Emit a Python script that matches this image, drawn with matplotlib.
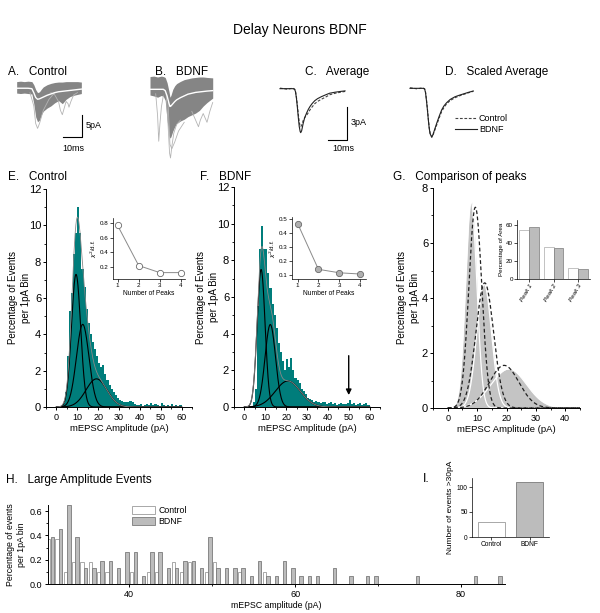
import numpy as np
import matplotlib.pyplot as plt
from matplotlib.patches import Patch
from matplotlib.ticker import MultipleLocator

plt.rcParams['font.family'] = ['Liberation Sans', 'DejaVu Sans']
plt.rcParams['axes.linewidth'] = 0.7
plt.rcParams['xtick.major.width'] = 0.7
plt.rcParams['ytick.major.width'] = 0.7
plt.rcParams['xtick.minor.width'] = 0.6
plt.rcParams['ytick.minor.width'] = 0.6

W, H = 600, 613
TEAL = '#007d7b'
GREY = '#bcbcbc'
EDGE = '#7a7a7a'

# ---------------- data ----------------
# A / B: envelopes of the raw traces (ms, pA)
t_a = [0, 2, 4, 6, 8, 9, 10, 11, 12, 13, 14, 16, 18, 20, 22, 24, 26, 28, 30, 32, 34]
avg_a = [0, 0, 0, 0, -0.1, -1.0, -2.1, -2.5, -2.4, -2.2, -2.0, -1.6, -1.3, -1.0, -0.8, -0.7, -0.6, -0.5, -0.4, -0.3, -0.2]
upper_a = [1.5, 1.6, 1.5, 1.6, 1.5, 0.8, -0.3, -1.0, -0.8, -0.2, 0.3, 0.8, 1.1, 1.3, 1.4, 1.4, 1.5, 1.5, 1.5, 1.5, 1.4]
lower_a = [-1.1, -1.2, -1.1, -1.2, -1.3, -3.5, -6.5, -7.6, -7.2, -6.0, -5.2, -4.5, -4.0, -3.3, -2.8, -3.5, -2.5, -1.9, -1.6, -1.4, -1.2]
out_a = [
    ([7, 9, 10, 11, 12, 14, 17, 20], [-1, -4, -8, -9.1, -8, -5, -2.5, -1]),
    ([18, 20, 22, 23, 24, 25, 26, 27, 27.5, 28.5, 30, 32], [-1, -1.5, -3, -5, -6, -4.5, -3, -3.5, -4.3, -3, -1.5, -1]),
]

t_b = [0, 2, 4, 5, 6, 7, 8, 9, 10, 10.5, 11, 12, 13, 14, 16, 18, 20, 22, 24, 26, 28, 30, 33]
avg_b = [0, 0, 0, 0, 0, 0, -0.3, -1.5, -3.2, -3.9, -3.8, -3.3, -2.8, -2.4, -1.9, -1.5, -1.1, -0.9, -0.7, -0.6, -0.5, -0.4, -0.3]
upper_b = [2.9, 3.0, 2.8, 2.9, 3.0, 2.9, 2.7, 1.5, -0.5, -1.8, -1.4, 0.0, 0.8, 1.3, 1.8, 2.2, 2.4, 2.6, 2.7, 2.8, 2.8, 2.7, 2.6]
lower_b = [-1.3, -1.5, -1.8, -1.6, -1.4, -1.6, -2.5, -7, -10.5, -11.1, -10.8, -9.5, -8.5, -7.8, -7.2, -6.8, -6.2, -5.8, -5.4, -4.8, -3.8, -3.0, -2.0]
out_b = [
    ([8.5, 9.5, 10.3, 10.8, 11.5, 12.5, 14, 16], [-1, -8, -14.5, -15.6, -13, -10, -8, -7]),
    ([3, 4, 4.6, 5.2, 6, 7], [-1, -6, -11.8, -8, -4, -1.5]),
    ([22, 24, 25.5, 26.5, 28, 30, 31.5, 33], [-5, -7, -8.5, -7, -5.5, -7.5, -5, -3]),
    ([9.5, 10.5, 11.5, 13, 15, 18], [-3, -12.5, -13.5, -12, -9.5, -7.5]),
]

# C / D: average traces (ms, pA)
t_c = [0, 4, 7, 8, 8.5, 9, 9.5, 10, 10.5, 11, 11.3, 11.8, 12.7, 13.5, 14.5, 15.5, 16.4, 17.5, 19, 20.5, 22.6, 25, 27.1, 30, 33, 35.5]
bdnf_c = [0, 0, 0, -0.05, -0.3, -0.9, -1.7, -2.6, -3.4, -3.85, -3.96, -3.8, -3.1, -2.6, -2.2, -1.85, -1.6, -1.35, -1.08, -0.9, -0.72, -0.55, -0.41, -0.32, -0.25, -0.2]
ctrl_c = [0.05, -0.05, 0.05, -0.05, -0.3, -0.8, -1.5, -2.3, -3.0, -3.38, -3.42, -3.3, -2.85, -2.6, -2.4, -2.15, -1.9, -1.65, -1.35, -1.15, -0.95, -0.75, -0.55, -0.42, -0.32, -0.25]
t_d = [0, 4, 7, 8, 8.5, 9, 9.5, 10, 10.5, 11, 11.9, 12.5, 13.5, 14.6, 16, 17.3, 18.5, 20, 22, 24.6, 27, 29.1, 32, 34.6]
bdnf_d = [0, 0, 0, -0.05, -0.4, -1.1, -1.9, -2.8, -3.6, -4.1, -4.4, -4.2, -3.7, -3.15, -2.5, -1.95, -1.6, -1.3, -1.0, -0.76, -0.62, -0.51, -0.36, -0.24]
ctrl_d = [0.05, -0.05, 0.05, -0.05, -0.35, -1.0, -1.8, -2.7, -3.5, -4.05, -4.4, -4.25, -3.8, -3.3, -2.65, -2.1, -1.75, -1.4, -1.1, -0.85, -0.68, -0.56, -0.4, -0.27]

# E / F: amplitude histograms, 1 pA bins starting at 0 pA (% of events)
ctrl_hist = [0, 0, 0.05, 0.2, 0.8, 2.8, 5.3, 6.3, 8.4, 9.6, 11.0, 9.6, 7.6, 6.6, 5.4, 4.6, 4.0, 3.6, 3.2, 2.8,
             2.4, 2.2, 2.3, 1.8, 1.5, 1.2, 1.0, 0.8, 0.65, 0.5, 0.4, 0.35, 0.3, 0.25, 0.3, 0.35, 0.3, 0.15, 0.1, 0.1,
             0.15, 0.05, 0.1, 0.15, 0.1, 0.2, 0.1, 0.15, 0.1, 0.05, 0.2, 0.1, 0.05, 0.1, 0.05, 0.15, 0.05, 0.1, 0.05, 0.1]
bdnf_hist = [0, 0, 0, 0.05, 0.3, 1.0, 5.5, 8.6, 9.9, 8.6, 8.6, 7.3, 6.5, 5.6, 5.0, 4.3, 3.5, 3.0, 2.5, 2.0,
             2.6, 2.2, 2.7, 2.0, 1.6, 1.5, 1.3, 1.0, 0.9, 0.7, 0.5, 0.45, 0.4, 0.3, 0.35, 0.25, 0.2, 0.3, 0.25, 0.15,
             0.2, 0.25, 0.15, 0.2, 0.1, 0.15, 0.2, 0.15, 0.15, 0.2, 0.4, 0.15, 0.2, 0.1, 0.15, 0.2, 0.1, 0.15, 0.2, 0.1]

# gaussian fits (centre pA, peak %, sd pA)
ctrl_mu = [9.4, 12.6, 19.2]
ctrl_amp = [7.3, 4.55, 1.55]
ctrl_sd = [2.2, 3.0, 5.0]
bdnf_mu = [8.0, 12.4, 20.8]
bdnf_amp = [7.5, 4.5, 1.42]
bdnf_sd = [1.9, 2.5, 6.0]

# chi^2 / d.f. vs number of peaks
n_peaks = [1, 2, 3, 4]
chi_ctrl = [0.767, 0.215, 0.118, 0.118]
chi_bdnf = [0.47, 0.139, 0.114, 0.105]

# G inset: percentage of area
peak_names = ['Peak 1', 'Peak 2', 'Peak 3']
area_ctrl = [54, 35, 12]
area_bdnf = [57, 34, 11]

# H: large amplitude events, 1 pA bins from 30 pA
large_bins = list(range(30, 85))
large_ctrl = [0.37, 0.37, 0.095, 0.185, 0.185, 0.185, 0.095, 0.095, 0, 0, 0.095, 0, 0.095, 0.095, 0, 0.185, 0.095, 0.185, 0, 0.095,
              0.185, 0, 0, 0.095, 0, 0, 0.095, 0, 0, 0, 0, 0, 0, 0, 0, 0, 0, 0, 0, 0,
              0, 0, 0, 0, 0, 0, 0, 0, 0, 0, 0, 0, 0, 0, 0]
large_bdnf = [0.39, 0.45, 0.65, 0.39, 0.13, 0.13, 0.19, 0.19, 0.13, 0.26, 0.26, 0.065, 0.26, 0.26, 0.13, 0.13, 0.19, 0.19, 0.13, 0.39,
              0.13, 0.13, 0.13, 0.13, 0.065, 0.19, 0.065, 0.065, 0.19, 0.13, 0.065, 0.065, 0.065, 0, 0.13, 0, 0.065, 0, 0.065, 0.065,
              0, 0, 0, 0, 0.065, 0, 0, 0, 0, 0, 0, 0.065, 0, 0, 0.065]

# I: number of events > 30 pA
groups = ['Control', 'BDNF']
n_large = [30, 110]


# ---------------- helpers ----------------
fig = plt.figure(figsize=(6.0, 6.13), dpi=100)


def px_axes(l, t, r, b):
    return fig.add_axes([l / W, 1 - b / H, (r - l) / W, (b - t) / H])


def px_text(x, y, s, **kw):
    kw.setdefault('va', 'center')
    fig.text(x / W, 1 - y / H, s, **kw)


def gauss(x, mu, amp, sd):
    return amp * np.exp(-(x - mu) ** 2 / (2 * sd ** 2))


def clean(ax):
    ax.spines['top'].set_visible(False)
    ax.spines['right'].set_visible(False)


def big_axis_style(ax, label_x):
    ax.xaxis.set_major_locator(MultipleLocator(10))
    ax.xaxis.set_minor_locator(MultipleLocator(5))
    ax.yaxis.set_major_locator(MultipleLocator(2))
    ax.yaxis.set_minor_locator(MultipleLocator(1))
    ax.tick_params(axis='y', labelsize=8, length=2.5, pad=1)
    ax.tick_params(axis='x', labelsize=6.5, length=2.5, pad=1.5)
    ax.tick_params(which='minor', length=1.5)
    ax.set_xlabel('mEPSC Amplitude (pA)', fontsize=6.8, labelpad=2)
    ax.set_ylabel('Percentage of Events\nper 1pA Bin', fontsize=7, linespacing=1.3)
    ax.yaxis.set_label_coords(label_x, 0.5)
    clean(ax)


px_text(300, 30, 'Delay Neurons BDNF', ha='center', fontsize=10)

# ---------------- A & B raw traces ----------------
axA = px_axes(10, 75, 100, 165)
axA.set_xlim(-3.5, 43.8)
axA.set_ylim(-17.4, 3.0)
for tt, yy in out_a:
    axA.plot(tt, yy, color='#b4b4b4', lw=0.6)
axA.fill_between(t_a, lower_a, upper_a, color='#858585', lw=0)
axA.plot(t_a, avg_a, color='white', lw=1.0)
axA.plot([24.4, 34.4, 34.4], [-11.07, -11.07, -6.07], color='black', lw=0.8)
axA.text(36, -8.4, '5pA', fontsize=6.5, va='center')
axA.text(29.6, -13.6, '10ms', fontsize=6.5, ha='center', va='center')
axA.axis('off')

axB = px_axes(140, 70, 230, 165)
axB.set_xlim(-5.26, 42.1)
axB.set_ylim(-17.2, 4.39)
for tt, yy in out_b:
    axB.plot(tt, yy, color='#b4b4b4', lw=0.6)
axB.fill_between(t_b, lower_b, upper_b, color='#858585', lw=0)
axB.plot(t_b, avg_b, color='white', lw=1.0)
axB.axis('off')

px_text(8, 72, 'A.   Control', fontsize=8.5)
px_text(155, 72, 'B.   BDNF', fontsize=8.5)
px_text(305, 72, 'C.   Average', fontsize=8.5)
px_text(445, 72, 'D.   Scaled Average', fontsize=8.5)

# ---------------- C & D averages ----------------
axC = px_axes(270, 80, 380, 160)
axC.set_xlim(-5.46, 54.6)
axC.set_ylim(-6.42, 0.78)
axC.plot(t_c, ctrl_c, color='#444444', lw=0.8, ls=(0, (2.5, 1.5)))
axC.plot(t_c, bdnf_c, color='#222222', lw=0.8)
axC.plot([26.4, 36.4, 36.4], [-4.62, -4.62, -1.62], color='black', lw=0.8)
axC.text(38.8, -3.09, '3pA', fontsize=6.5, va='center')
axC.text(34.4, -5.4, '10ms', fontsize=6.5, ha='center', va='center')
axC.axis('off')

axD = px_axes(400, 80, 560, 160)
axD.set_xlim(-5.46, 82)
axD.set_ylim(-6.46, 0.75)
axD.plot(t_d, ctrl_d, color='#444444', lw=0.8, ls=(0, (2.5, 1.5)))
axD.plot(t_d, bdnf_d, color='#222222', lw=0.8)
axD.plot([24.6, 36.6], [-2.7, -2.7], color='#444444', lw=0.8, ls=(0, (2.5, 1.5)))
axD.plot([24.6, 36.6], [-3.67, -3.67], color='#222222', lw=0.8)
axD.text(37.7, -2.7, 'Control', fontsize=6.5, va='center')
axD.text(37.7, -3.67, 'BDNF', fontsize=6.5, va='center')
axD.axis('off')

# ---------------- E & F histograms ----------------
xg = np.linspace(0, 60, 600)


def hist_panel(box, hist, mus, amps, sds, title_x, title):
    ax = px_axes(*box)
    ax.bar(np.arange(len(hist)), hist, width=1.0, align='edge', color=TEAL, lw=0)
    total = np.zeros_like(xg)
    for m, a, s in zip(mus, amps, sds):
        g = gauss(xg, m, a, s)
        total += g
        ax.plot(xg, g, color='black', lw=0.8)
    ax.plot(xg, total, color='#888888', lw=0.6)
    ax.set_xlim(-5, 65)
    ax.set_ylim(0, 12)
    big_axis_style(ax, -0.105)
    px_text(title_x, 177, title, fontsize=8.5)
    return ax


axE = hist_panel((46, 189, 192, 407), ctrl_hist, ctrl_mu, ctrl_amp, ctrl_sd, 8, 'E.   Control')
axF = hist_panel((234, 187, 380, 407), bdnf_hist, bdnf_mu, bdnf_amp, bdnf_sd, 200, 'F.   BDNF')
axF.annotate('', xy=(50, 0.5), xytext=(50, 2.95),
             arrowprops=dict(arrowstyle='-|>', color='black', lw=1.0, mutation_scale=8))


def chi_inset(box, vals, face, xlim, ylim, yticks):
    ax = px_axes(*box)
    ax.plot(n_peaks, vals, color='#8a8a8a', lw=0.7, marker='o', ms=4.5,
            mfc=face, mec='#6a6a6a', mew=0.6)
    ax.set_xlim(*xlim)
    ax.set_ylim(*ylim)
    ax.set_xticks(n_peaks)
    ax.set_yticks(yticks)
    ax.tick_params(labelsize=4.5, length=2, pad=1, width=0.5)
    ax.set_xlabel('Number of Peaks', fontsize=4.8, labelpad=1)
    ax.set_ylabel(r'$\chi^2$/d.f.', fontsize=4.5, labelpad=1)
    for s in ax.spines.values():
        s.set_linewidth(0.5)
    clean(ax)
    return ax


chi_inset((113, 218, 185, 279), chi_ctrl, 'white', (0.78, 4.2), (0.03, 0.87), [0.2, 0.4, 0.6, 0.8])
chi_inset((292, 217, 366, 279), chi_bdnf, '#b0b0b0', (0.73, 4.29), (0.069, 0.517), [0.1, 0.2, 0.3, 0.4, 0.5])

# ---------------- G comparison ----------------
axG = px_axes(433, 188, 580, 408)
xg2 = np.linspace(0, 45, 500)
for i in [2, 1, 0]:
    g = gauss(xg2, bdnf_mu[i], bdnf_amp[i], bdnf_sd[i])
    axG.fill_between(xg2, 0, g, color='#c4c4c4', lw=0)
    axG.plot(xg2, g, color='white', lw=0.9)
for m, a, s in zip(ctrl_mu, ctrl_amp, ctrl_sd):
    axG.plot(xg2, gauss(xg2, m, a, s), color='#222222', lw=0.9, ls=(0, (3, 2)))
axG.set_xlim(-5, 45)
axG.set_ylim(0, 8)
big_axis_style(axG, -0.09)
px_text(393, 177, 'G.   Comparison of peaks', fontsize=8.5)

axGi = px_axes(517, 220, 590, 279)
pos = np.arange(len(peak_names))
axGi.bar(pos - 0.2, area_ctrl, width=0.4, color='white', edgecolor='#aaaaaa', lw=0.5)
axGi.bar(pos + 0.2, area_bdnf, width=0.4, color=GREY, edgecolor=EDGE, lw=0.5)
axGi.set_xlim(-0.5, 2.5)
axGi.set_ylim(0, 65)
axGi.set_yticks([0, 20, 40, 60])
axGi.set_xticks(pos)
axGi.set_xticklabels(peak_names, rotation=60, ha='right', rotation_mode='anchor', fontstyle='italic')
axGi.tick_params(labelsize=4.5, length=2, pad=1, width=0.5)
axGi.set_ylabel('Percentage of Area', fontsize=4.5, labelpad=1)
for s in axGi.spines.values():
    s.set_linewidth(0.5)
clean(axGi)

# ---------------- H large events ----------------
axH = px_axes(48, 505, 505, 584)
lb = np.array(large_bins)
axH.bar(lb + 0.3, large_ctrl, width=0.4, color='white', edgecolor='#9a9a9a', lw=0.6)
axH.bar(lb + 0.72, large_bdnf, width=0.42, color=GREY, edgecolor=EDGE, lw=0.6)
axH.set_xlim(30.2, 85.3)
axH.set_ylim(0, 0.65)
axH.set_xticks([40, 60, 80])
axH.xaxis.set_minor_locator(MultipleLocator(10))
axH.set_yticks([0.0, 0.2, 0.4, 0.6])
axH.yaxis.set_minor_locator(MultipleLocator(0.1))
axH.tick_params(labelsize=6.5, length=2.5, pad=1.5)
axH.tick_params(which='minor', length=1.5)
axH.set_xlabel('mEPSC amplitude (pA)', fontsize=6.3, labelpad=2)
axH.set_ylabel('Percentage of events\nper 1pA bin', fontsize=6.3, labelpad=3)
clean(axH)
axH.legend(handles=[Patch(facecolor='white', edgecolor='#9a9a9a', lw=0.6, label='Control'),
                    Patch(facecolor=GREY, edgecolor=EDGE, lw=0.6, label='BDNF')],
           loc='upper left', bbox_to_anchor=(0.17, 1.06), frameon=False, fontsize=6.3,
           handlelength=2.6, handleheight=1.0, handletextpad=0.4, labelspacing=0.2, borderpad=0.2)
px_text(6, 480, 'H.   Large Amplitude Events', fontsize=8.5)

# ---------------- I counts ----------------
axI = px_axes(472, 478, 549, 537)
axI.bar([0, 1], n_large, width=0.7, color=['white', GREY], edgecolor=['#9a9a9a', EDGE], lw=0.6)
axI.set_xlim(-0.5, 1.5)
axI.set_ylim(0, 118)
axI.set_xticks([0, 1])
axI.set_xticklabels(groups)
axI.set_yticks([0, 50, 100])
axI.tick_params(labelsize=4.8, length=2, pad=1, width=0.5)
axI.set_ylabel('Number of events >30pA', fontsize=6, labelpad=2)
for s in axI.spines.values():
    s.set_linewidth(0.5)
clean(axI)
px_text(423, 479, 'I.', fontsize=9)

fig.savefig('out.png', dpi=100)
